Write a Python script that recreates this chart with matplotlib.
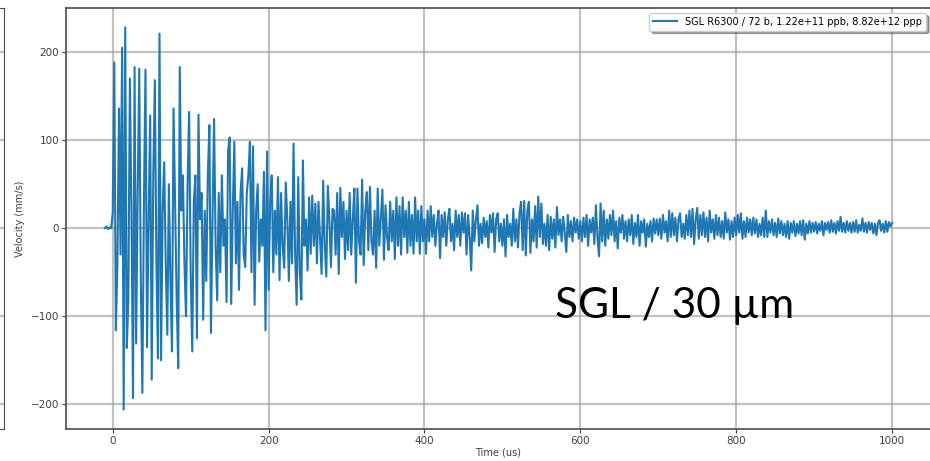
import numpy as np
import matplotlib.pyplot as plt

# velocity samples (mm/s), one every 2 us starting at t = -10 us
vel_pre = [0, 2, -1, 1, 0]
vel_000 = [18, 188, -116, -40, 136, -30, 205, -206, 228, -136,
           -82, 170, 20, -193, 183, -131, 40, 181, -60, -187,
           30, 180, -135, 10, 128, -172, 60, 168, -40, -148,
           221, -150, 20, 75, -40, -121, 50, -60, -140, 136,
           30, -80, -159, 183, 20, 60, -40, -100, 50, 132]
vel_100 = [-50, -140, 30, 60, -125, 129, 10, 40, -104, 20,
           -60, 60, 117, -119, 10, 124, -20, -82, 40, -50,
           60, -20, 10, -84, 88, 103, -86, 20, 98, -40,
           30, -70, 40, 68, -30, -44, 40, 60, 98, -50,
           93, -87, 20, 50, -38, 10, -20, 64, -116, 87]
vel_200 = [-70, 30, 60, -50, 20, -30, 58, -59, 40, -20,
           -45, 52, 10, -60, 30, -40, 96, -30, -87, 58,
           -50, -81, 77, -20, 10, -48, 35, -29, 37, -20,
           28, -40, 30, -10, -52, 54, -20, -55, 48, 10,
           -44, 22, 20, -30, 40, -52, 46, -10, 30, -35]
vel_300 = [20, -25, 40, -30, 10, 45, -62, 45, -15, -30,
           55, -42, 20, 41, -25, 47, -15, -30, 20, -45,
           45, -20, 10, 44, -36, 26, -10, -25, 30, -15,
           20, -35, 35, -20, 25, -30, 35, -10, 20, -28,
           30, -20, 15, -29, 35, -15, 20, -29, 25, -15]
vel_400 = [10, -29, 20, -15, 25, -10, 15, -20, 5, 20,
           -34, 15, -10, 18, -20, 10, 22, -15, 5, -25,
           20, -10, 15, -20, 18, -5, 17, -30, 15, -10,
           -48, 20, -15, 10, 26, -20, 5, -17, 12, -10,
           8, -22, 15, -5, 17, -27, 10, 17, -15, 5]
vel_500 = [-20, 10, -32, 15, -10, 5, -20, 22, -15, 10,
           -22, 18, 30, -25, 31, -31, 20, 30, -28, 10,
           -15, 25, -22, 36, -10, 28, -18, 5, -20, 15,
           -25, 13, -12, 10, -22, 24, -8, 10, -15, 13,
           -5, -27, 15, -10, 8, -15, 12, -5, 10, -12]
vel_600 = [8, -15, 12, -10, 15, -20, 10, -5, 12, -18,
           26, -10, -32, 28, -15, 20, -20, 10, -12, 15,
           -8, 20, -15, 8, -23, 12, -5, 15, -12, 8,
           -15, 10, -8, 15, -18, 6, -10, 15, -20, 8,
           -5, 10, -21, 5, -10, 8, -15, 11, -6, 10]
vel_700 = [-8, 11, -12, 15, -5, 8, -15, 20, -10, 17,
           -8, 12, -15, 10, 17, -10, 5, -12, 15, -8,
           20, -10, 22, -18, 10, 23, -12, 15, -8, 18,
           -10, 12, -15, 20, -5, 10, -12, 15, -8, 12,
           -10, 8, -12, 18, -5, 10, -13, 8, -10, 12]
vel_800 = [-8, 15, -5, 17, -12, 8, -10, 12, -5, 10,
           -8, 12, -6, 10, -10, 5, -8, 12, -10, 20,
           -10, 8, -5, 10, -8, 6, -10, 11, -6, 8,
           -8, 5, -10, 8, -12, 6, -5, 8, -9, 5,
           -6, 8, -8, 9, -13, 5, -6, 8, -5, 6]
vel_900 = [-4, 7, -6, 5, -3, 8, -8, 6, -2, 7,
           -5, 9, -4, 6, -6, 8, -3, 13, -4, 6,
           -5, 8, -3, 6, -5, 7, -4, 9, -5, 4,
           -3, 11, -4, 6, -5, 7, -2, 6, -6, 5,
           -8, 6, 9, -3, 5, -5, 8, -4, 7, 2, 6]

vel = np.array(vel_pre + vel_000 + vel_100 + vel_200 + vel_300 + vel_400
               + vel_500 + vel_600 + vel_700 + vel_800 + vel_900)
t = -10 + 2 * np.arange(len(vel))

label = "SGL R6300 / 72 b, 1.22e+11 ppb, 8.82e+12 ppp"

W, H = 930, 461
fig = plt.figure(figsize=(W / 100, H / 100), dpi=100)

grid_kw = dict(color='0.6', linewidth=1.6, alpha=0.6)
y_bot, y_top = 429, 8
ax_b = (H - y_bot) / H
ax_h = (y_bot - y_top) / H

# bit of the neighbouring panel that is cut off on the left
ax0 = fig.add_axes([-0.2, ax_b, 0.2043, ax_h])
ax0.set_ylim(-228, 250)
ax0.set_yticks([-200, -100, 0, 100, 200])
ax0.set_xticks([])
ax0.tick_params(left=False, labelleft=False)
ax0.grid(True, axis='y', **grid_kw)
for s in ax0.spines.values():
    s.set_color('0.3')

ax = fig.add_axes([66 / W, ax_b, (931 - 66) / W, ax_h])
ax.plot(t, vel, color='#1f77b4', linewidth=1.5, label=label)
ax.set_xlim(-60, 1050)
ax.set_ylim(-228, 250)
ax.set_xticks([0, 200, 400, 600, 800, 1000])
ax.set_yticks([-200, -100, 0, 100, 200])
ax.grid(True, **grid_kw)
ax.set_axisbelow(True)
ax.tick_params(labelsize=7.5, colors='0.25', length=3, pad=2)
for s in ax.spines.values():
    s.set_color('0.3')
    s.set_linewidth(1.2)
ax.set_xlabel("Time (us)", fontsize=7, color='0.25', labelpad=1)
ax.set_ylabel("Velocity (mm/s)", fontsize=7, color='0.25', labelpad=4)
ax.legend(loc='upper right', fontsize=7, shadow=True, framealpha=1,
          borderaxespad=0.5, handlelength=2.5)

fig.text(555 / W, (H - 318) / H, "SGL / 30 µm", fontsize=30.5,
         family=['Lato', 'DejaVu Sans'], color='black', va='baseline')

fig.savefig("out.png", dpi=100)
